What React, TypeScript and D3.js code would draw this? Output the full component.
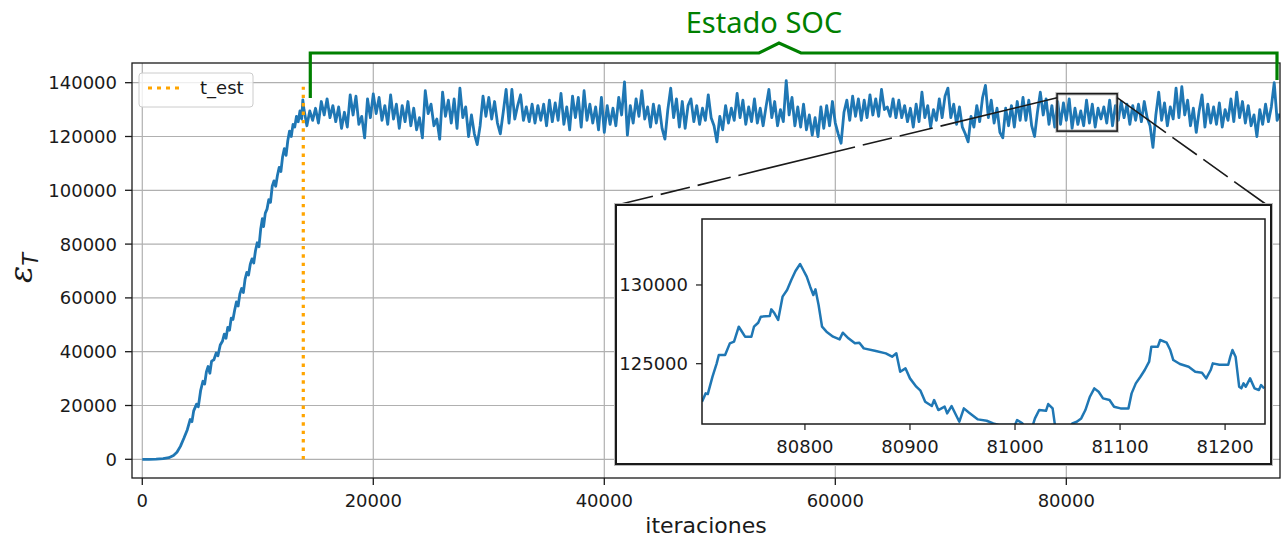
import React from 'react';
import * as d3 from 'd3';

// Energy of the sandpile vs. iteration, with a zoomed window on the SOC regime.

const xTicks = [0, 20000, 40000, 60000, 80000];
const yTicks = [0, 20000, 40000, 60000, 80000, 100000, 120000, 140000];
const zoomXTicks = [80800, 80900, 81000, 81100, 81200];
const zoomYTicks = [125000, 130000];

const tEst = 13940;
const tEstTop = 138500;

// Transient growth before the stationary state
const rampPoints: [number, number][] = [
  [0, 0], [600, 0], [1200, 80], [1800, 250], [2300, 600], [2700, 1400], [3000, 2600],
  [3300, 4800], [3600, 7800], [3900, 11000], [4150, 14800], [4300, 14000], [4450, 18000],
  [4700, 20500], [4850, 19500], [5050, 25500], [5250, 29000], [5400, 28000], [5550, 32500],
  [5700, 34500], [5850, 32000], [6000, 36500], [6200, 37000], [6400, 39500], [6550, 38500],
  [6750, 42500], [6950, 44000], [7100, 46500], [7250, 45000], [7400, 49000], [7550, 48000],
  [7700, 52500], [7850, 52000], [8000, 55500], [8150, 58500], [8300, 57000], [8450, 61500],
  [8600, 63500], [8750, 62000], [8900, 67000], [9050, 69500], [9200, 68500], [9350, 72500],
  [9500, 74500], [9650, 73000], [9800, 77500], [9950, 80500], [10100, 79000], [10250, 85500],
  [10400, 89500], [10500, 86500], [10650, 91500], [10800, 93000], [10950, 96500],
  [11100, 95500], [11250, 101500], [11400, 103500], [11550, 101500], [11700, 105500],
  [11850, 108500], [12000, 107000], [12150, 112500], [12300, 115500], [12450, 113000],
  [12600, 118500], [12750, 122000], [12900, 120000], [13050, 124500], [13200, 123500],
  [13350, 127500], [13500, 125500], [13650, 129500], [13800, 126500], [13900, 133600],
];

// Stationary (SOC) regime, sampled every socStep iterations from socStart
const socStart = 14000;
const socStep = 250;
const socValues: number[] = [
  // 14000 - 30500
  130000, 124000, 129500, 126000, 130500, 125000, 133000, 128000, 134000, 127000,
  131500, 125500, 131000, 123000, 129000, 123500, 135500, 128000, 135000, 124500,
  127500, 119500, 134000, 127000, 135800, 128500, 134500, 126000, 131500, 124500,
  135500, 126500, 132000, 123000, 131500, 125500, 133000, 124000, 130500, 122500,
  127000, 119500, 137000, 128500, 132000, 124000, 126500, 119000, 136500, 127500,
  133500, 125000, 134000, 123000, 138000, 127000, 131000, 120000, 128000, 121000,
  117000, 124000, 135000, 127500, 134500, 126500, 133000,
  // 30750 - 47250
  125000, 121000, 129000, 137500, 125000, 137500, 126500, 131500, 135500, 126000,
  131000, 125500, 132000, 125000, 131500, 126000, 132000, 124000, 133500, 125500,
  132500, 126000, 136000, 124500, 131000, 122500, 135000, 127000, 134500, 123500,
  137000, 126000, 132000, 125000, 131000, 122500, 134500, 121500, 131500, 124500,
  130500, 124000, 134500, 128000, 140300, 120500, 131500, 125000, 134000, 127500,
  137000, 126500, 131000, 123500, 132000, 125000, 131500, 123000, 119000, 130000,
  138000, 127000, 134000, 123500, 133000, 123000, 131500,
  // 47500 - 64250
  134000, 125500, 131500, 124500, 130500, 126000, 135500, 127000, 124000, 118000,
  127500, 122500, 131500, 125000, 130500, 126000, 136000, 127000, 133500, 124500,
  131000, 125500, 134000, 125000, 130500, 124000, 131000, 137500, 127000, 133000,
  124000, 130000, 125500, 140800, 128000, 134500, 124000, 131000, 123500, 132000,
  122500, 128000, 120500, 127000, 120000, 131000, 123000, 131500, 124000, 133000,
  125000, 121000, 117500, 129000, 133500, 126000, 135000, 127500, 134000, 126000,
  133500, 127000, 135500, 128000, 134000, 127500, 137500, 130000,
  // 64500 - 81000
  131000, 127500, 134000, 127000, 133500, 127000, 131500, 125500, 130500, 123500,
  132000, 125500, 136500, 127000, 131500, 123500, 130000, 126000, 134000, 127000,
  135000, 138000, 127000, 132000, 124500, 131000, 123500, 121000, 118000, 127500,
  123500, 131500, 125500, 134500, 139000, 127000, 133500, 125000, 130500, 121500,
  119500, 130500, 124000, 131500, 123500, 133000, 126000, 134500, 126000, 133500,
  124000, 120000, 129000, 136500, 128000, 134000, 124500, 131500, 123500, 133000,
  124500, 132500, 126000, 134000, 123000, 130500, 124500,
  // 81250 - 98500
  129500, 124000, 133500, 125000, 132000, 123500, 130500, 126500, 131000, 125000,
  133500, 124000, 131500, 126000, 133000, 127000, 132000, 124500, 131500, 126000,
  132000, 125500, 133000, 127000, 124000, 116000, 128000, 136500, 126000, 132500,
  124000, 131000, 126500, 138000, 127000, 138500, 128000, 133500, 124000, 130500,
  121500, 129500, 135500, 123500, 132000, 125000, 131000, 124500, 132500, 123500,
  130000, 126000, 134000, 125500, 136500, 127000, 133000, 125000, 131500, 124000,
  128000, 120000, 130000, 124500, 132000, 125500, 131000, 140000, 126000, 128500,
];

// Fine-grained window of the stationary regime
const zoomPoints: [number, number][] = [
  [80702, 122586], [80705.5, 123115], [80707.5, 123070], [80712, 124174], [80716, 125021],
  [80718, 125550], [80724, 125550], [80728.5, 126290], [80732.5, 126400], [80737, 127350],
  [80739, 127140], [80743, 126715], [80749, 126715], [80751.5, 127350], [80755.5, 127600],
  [80758, 127986], [80766.5, 128030], [80768, 128452], [80771, 128200], [80774.5, 127774],
  [80778.7, 129257], [80783, 129680], [80787, 130316], [80791, 130890], [80795.4, 131333],
  [80798.4, 130950], [80801.7, 130528], [80805, 129890], [80808, 129363], [80810, 129723],
  [80813, 128728], [80816.3, 127350], [80820.5, 127033], [80826.8, 126715], [80833, 126546],
  [80836, 126970], [80841.4, 126610], [80847.6, 126292], [80851.8, 126335], [80856, 125974],
  [80866.5, 125826], [80877, 125657], [80883, 125445], [80887, 125657], [80890.7, 124492],
  [80895.7, 124704], [80900, 124068], [80906, 123539], [80910, 123284], [80914.5, 122585],
  [80920.8, 122310], [80923, 122691], [80927, 122056], [80933, 122270], [80935.4, 121844],
  [80939.6, 122310], [80943.8, 121738], [80947, 121315], [80951.3, 122162], [80956.3, 121887],
  [80964.7, 121463], [80973, 121378], [80979.3, 121209], [80985.6, 121100], [81000, 121100],
  [81002, 121420], [81007, 121210], [81010.6, 120800], [81017, 121100], [81019, 121527],
  [81023, 122056], [81029.5, 122010], [81031.6, 122437], [81035.8, 122162], [81037.8, 121209],
  [81040, 119900], [81048, 119300], [81054.6, 121209], [81058.8, 121315], [81063, 121527],
  [81067, 122056], [81071.3, 122903], [81075.5, 123433], [81079.6, 123221], [81083.8, 122797],
  [81090, 122691], [81094.3, 122268], [81100.5, 122162], [81108, 122162], [81111, 123115],
  [81115, 123750], [81119.4, 124174], [81123.5, 124598], [81127.7, 125127], [81129.8, 126080],
  [81136, 126080], [81138.2, 126504], [81144.4, 126334], [81147.8, 125868], [81150.7, 125233],
  [81157, 124979], [81165.3, 124809], [81171.6, 124492], [81178, 124428], [81182, 124068],
  [81186.3, 124598], [81188.3, 125021], [81194.6, 124936], [81203, 124936], [81205, 125445],
  [81207, 125868], [81210, 125445], [81213.4, 123539], [81215.5, 123433], [81217.6, 123750],
  [81219.7, 123539], [81223.8, 124068], [81228, 123433], [81232.2, 123327], [81234.3, 123645],
  [81237.2, 123433],
];

// Region of the main axes that the inset magnifies
const zoomRegion = { x0: 79200, x1: 84400, y0: 122000, y1: 135900 };

const FONT = 'DejaVu Sans, sans-serif';
const BLUE = '#1f77b4';
const GRID = '#b0b0b0';
const INK = '#1a1a1a';

export default function App() {
  const M = { left: 132, right: 1280, top: 63, bottom: 478 };
  const I = { left: 702, right: 1265, top: 219, bottom: 424 };
  const frame = { left: 616, right: 1271, top: 205, bottom: 464 };

  const x = d3.scaleLinear().domain([-890, 98500]).range([M.left, M.right]);
  const y = d3.scaleLinear().domain([-6950, 147320]).range([M.bottom, M.top]);
  const zx = d3.scaleLinear().domain([80702, 81238]).range([I.left, I.right]);
  const zy = d3.scaleLinear().domain([121170, 134190]).range([I.bottom, I.top]);

  const series: [number, number][] = [
    ...rampPoints,
    ...socValues.map((v, i) => [socStart + i * socStep, v] as [number, number]),
  ];

  const line = d3.line<[number, number]>().x(d => x(d[0])).y(d => y(d[1]));
  const zLine = d3.line<[number, number]>().x(d => zx(d[0])).y(d => zy(d[1]));
  const fmt = d3.format('d');

  const rx0 = x(zoomRegion.x0);
  const rx1 = x(zoomRegion.x1);
  const ry0 = y(zoomRegion.y1);
  const ry1 = y(zoomRegion.y0);

  // SOC bracket above the plot
  const bLeft = x(tEst) + 7;
  const bRight = M.right - 3;
  const bY = 53;
  const bPeakX = 779;
  const bracket = [
    [bLeft, 98], [bLeft, bY], [bPeakX - 20, bY], [bPeakX, bY - 10],
    [bPeakX + 22, bY], [bRight, bY], [bRight, 80],
  ].map(p => p.join(',')).join(' ');

  return (
    <svg width={1288} height={540} style={{ position: 'absolute', left: 0, top: 0, background: '#fff' }}
      fontFamily={FONT}>
      <defs>
        <clipPath id="mainClip">
          <rect x={M.left} y={M.top} width={M.right - M.left} height={M.bottom - M.top} />
        </clipPath>
        <clipPath id="zoomClip">
          <rect x={I.left} y={I.top} width={I.right - I.left} height={I.bottom - I.top} />
        </clipPath>
      </defs>

      {/* grid */}
      {xTicks.map(t => (
        <line key={'gx' + t} x1={x(t)} x2={x(t)} y1={M.top} y2={M.bottom} stroke={GRID} strokeWidth={1.2} />
      ))}
      {yTicks.map(t => (
        <line key={'gy' + t} x1={M.left} x2={M.right} y1={y(t)} y2={y(t)} stroke={GRID} strokeWidth={1.2} />
      ))}

      {/* energy curve */}
      <path d={line(series) || ''} fill="none" stroke={BLUE} strokeWidth={2.8}
        strokeLinejoin="round" clipPath="url(#mainClip)" />

      {/* stabilisation time */}
      <line x1={x(tEst)} x2={x(tEst)} y1={y(0)} y2={y(tEstTop)} stroke="#ffa500"
        strokeWidth={3.2} strokeDasharray="3.4 5" />

      {/* spines */}
      <rect x={M.left} y={M.top} width={M.right - M.left} height={M.bottom - M.top}
        fill="none" stroke={INK} strokeWidth={1.3} />

      {/* ticks and labels */}
      {xTicks.map(t => (
        <g key={'tx' + t}>
          <line x1={x(t)} x2={x(t)} y1={M.bottom} y2={M.bottom + 7} stroke={INK} strokeWidth={1.3} />
          <text x={x(t)} y={507} textAnchor="middle" fontSize={18} fill={INK}>{fmt(t)}</text>
        </g>
      ))}
      {yTicks.map(t => (
        <g key={'ty' + t}>
          <line x1={M.left - 7} x2={M.left} y1={y(t)} y2={y(t)} stroke={INK} strokeWidth={1.3} />
          <text x={117} y={y(t)} dy="0.36em" textAnchor="end" fontSize={18} fill={INK}>{fmt(t)}</text>
        </g>
      ))}

      <text x={(M.left + M.right) / 2} y={533} textAnchor="middle" fontSize={22} fill={INK}>iteraciones</text>
      <text transform="translate(32,268) rotate(-90)" textAnchor="middle" fontSize={32} fill={INK}>
        <tspan fontStyle="italic" fontFamily="DejaVu Serif, serif">ε</tspan>
        <tspan fontStyle="italic" fontSize={21} dy="6">T</tspan>
      </text>

      {/* legend */}
      <rect x={139} y={73} width={114} height={34} rx={3} fill="#fff" fillOpacity={0.8}
        stroke="#cccccc" strokeWidth={1} />
      <line x1={148} x2={182} y1={88} y2={88} stroke="#ffa500" strokeWidth={3.2} strokeDasharray="4 5" />
      <text x={200} y={94} fontSize={18} fill={INK}>t_est</text>

      {/* zoom region marker */}
      <rect x={rx0} y={ry0} width={rx1 - rx0} height={ry1 - ry0} fill="none" stroke="#999"
        strokeOpacity={0.6} strokeWidth={3.5} />
      <rect x={rx0} y={ry0} width={rx1 - rx0} height={ry1 - ry0} fill="none" stroke={INK} strokeWidth={1.5} />

      {/* connectors */}
      <line x1={rx0} y1={ry0 + 4} x2={frame.left + 1} y2={frame.top} stroke={INK} strokeWidth={1.6}
        strokeDasharray="120 8 34 8 30 8" />
      <line x1={rx1} y1={ry0 + 4} x2={frame.right - 4} y2={frame.top} stroke={INK} strokeWidth={1.6}
        strokeDasharray="60 8 30 8 30 8" />

      {/* inset frame */}
      <rect x={frame.left} y={frame.top} width={frame.right - frame.left} height={frame.bottom - frame.top}
        fill="#fff" stroke="#bbb" strokeWidth={4} />
      <rect x={frame.left} y={frame.top} width={frame.right - frame.left} height={frame.bottom - frame.top}
        fill="#fff" stroke={INK} strokeWidth={2} />

      {/* inset */}
      <path d={zLine(zoomPoints) || ''} fill="none" stroke={BLUE} strokeWidth={2.5}
        strokeLinejoin="round" clipPath="url(#zoomClip)" />
      <rect x={I.left} y={I.top} width={I.right - I.left} height={I.bottom - I.top}
        fill="none" stroke={INK} strokeWidth={1.5} />
      {zoomXTicks.map(t => (
        <g key={'zx' + t}>
          <line x1={zx(t)} x2={zx(t)} y1={I.bottom} y2={I.bottom + 6} stroke={INK} strokeWidth={1.2} />
          <text x={zx(t)} y={453} textAnchor="middle" fontSize={18} fill={INK}>{fmt(t)}</text>
        </g>
      ))}
      {zoomYTicks.map(t => (
        <g key={'zy' + t}>
          <line x1={I.left - 6} x2={I.left} y1={zy(t)} y2={zy(t)} stroke={INK} strokeWidth={1.2} />
          <text x={688} y={zy(t)} dy="0.36em" textAnchor="end" fontSize={18} fill={INK}>{fmt(t)}</text>
        </g>
      ))}

      {/* SOC bracket */}
      <polyline points={bracket} fill="none" stroke="#008000" strokeWidth={3.2} />
      <text x={764} y={33} textAnchor="middle" fontSize={29} fontFamily="Noto Sans, sans-serif"
        fill="#008000">Estado SOC</text>
    </svg>
  );
}
